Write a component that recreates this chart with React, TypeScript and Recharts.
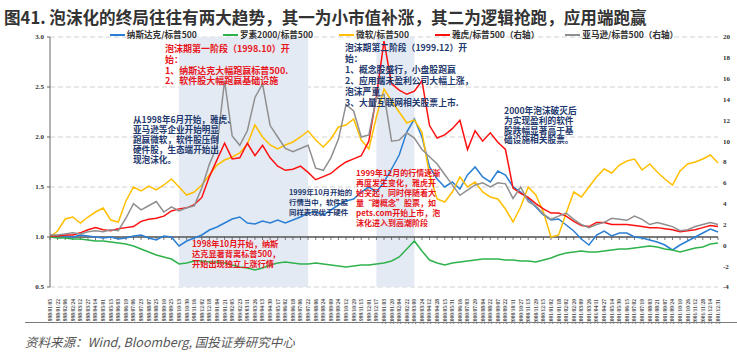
import React from "react";
import {
  LineChart,
  Line,
  XAxis,
  YAxis,
  CartesianGrid,
  ReferenceArea,
  ReferenceLine,
} from "recharts";

// ~every 11 trading days, Jan 1998 - Dec 2001
const dates = [
  "1998/01/05", "1998/01/22", "1998/02/06", "1998/02/24", "1998/03/12", "1998/03/27", "1998/04/14", "1998/05/01", "1998/05/15", "1998/06/03",
  "1998/06/19", "1998/07/06", "1998/07/23", "1998/08/07", "1998/08/25", "1998/09/10", "1998/09/25", "1998/10/13", "1998/10/30", "1998/11/16",
  "1998/12/02", "1998/12/18", "1999/01/04", "1999/01/21", "1999/02/05", "1999/02/23", "1999/03/11", "1999/03/26", "1999/04/13", "1999/04/30",
  "1999/05/17", "1999/06/02", "1999/06/18", "1999/07/06", "1999/07/22", "1999/08/06", "1999/08/24", "1999/09/09", "1999/09/24", "1999/10/12",
  "1999/10/29", "1999/11/15", "1999/12/01", "1999/12/17", "2000/01/03", "2000/01/20", "2000/02/04", "2000/02/22", "2000/03/09", "2000/03/24",
  "2000/04/12", "2000/04/28", "2000/05/15", "2000/05/31", "2000/06/16", "2000/07/03", "2000/07/20", "2000/08/04", "2000/08/22", "2000/09/07",
  "2000/09/22", "2000/10/11", "2000/10/27", "2000/11/13", "2000/11/29", "2000/12/15", "2001/01/02", "2001/01/18", "2001/02/02", "2001/02/20",
  "2001/03/09", "2001/03/26", "2001/04/11", "2001/04/27", "2001/05/14", "2001/05/30", "2001/06/15", "2001/07/02", "2001/07/19", "2001/08/03",
  "2001/08/21", "2001/09/07", "2001/09/24", "2001/10/10", "2001/10/26", "2001/11/12", "2001/11/28", "2001/12/14", "2001/12/31",
];

// left axis
const nasdaq = [
  1.00, 1.01, 1.01, 1.00, 1.02, 1.01, 1.00, 0.99, 1.00, 0.98,
  0.99, 1.01, 1.02, 0.99, 0.97, 1.01, 1.00, 0.91, 0.96, 0.99,
  1.02, 1.07, 1.10, 1.14, 1.18, 1.20, 1.14, 1.13, 1.16, 1.14,
  1.17, 1.14, 1.17, 1.20, 1.24, 1.25, 1.22, 1.27, 1.32, 1.36,
  1.38, 1.45, 1.50, 1.45, 1.55, 1.68, 1.82, 2.05, 2.18, 2.00,
  1.70, 1.58, 1.50, 1.55, 1.48, 1.62, 1.70, 1.60, 1.55, 1.66,
  1.62, 1.50, 1.45, 1.38, 1.30, 1.22, 1.17, 1.18, 1.12, 1.06,
  0.98, 0.92, 1.02, 1.06, 1.01, 1.04, 1.04, 1.00, 0.99, 0.97,
  0.95, 0.92, 0.87, 0.92, 0.96, 1.00, 1.04, 1.08, 1.05,
];
const russell = [
  1.00, 0.99, 0.99, 0.98, 0.98, 0.97, 0.96, 0.96, 0.95, 0.94,
  0.93, 0.91, 0.88, 0.85, 0.82, 0.80, 0.78, 0.73, 0.74, 0.76,
  0.76, 0.75, 0.75, 0.74, 0.72, 0.70, 0.69, 0.67, 0.69, 0.72,
  0.74, 0.75, 0.74, 0.73, 0.73, 0.74, 0.73, 0.72, 0.71, 0.70,
  0.71, 0.72, 0.72, 0.73, 0.74, 0.76, 0.80, 0.88, 0.96, 0.86,
  0.77, 0.74, 0.72, 0.74, 0.75, 0.76, 0.77, 0.78, 0.78, 0.78,
  0.77, 0.77, 0.76, 0.76, 0.75, 0.77, 0.79, 0.82, 0.84, 0.85,
  0.86, 0.85, 0.85, 0.86, 0.87, 0.88, 0.88, 0.89, 0.90, 0.91,
  0.90, 0.88, 0.87, 0.85, 0.87, 0.89, 0.90, 0.93, 0.94,
];
const msft = [
  1.00, 1.06, 1.18, 1.20, 1.14, 1.20, 1.25, 1.29, 1.17, 1.15,
  1.36, 1.50, 1.46, 1.51, 1.47, 1.52, 1.58, 1.50, 1.42, 1.45,
  1.52, 1.62, 1.72, 1.77, 1.80, 1.84, 1.93, 2.12, 2.00, 1.92,
  1.88, 1.92, 1.95, 2.00, 2.06, 1.97, 1.90, 1.98, 2.10, 2.12,
  2.18, 1.97, 1.88, 2.20, 2.48, 2.36, 2.25, 2.14, 2.17, 2.05,
  1.62, 1.38, 1.35, 1.45, 1.60, 1.50, 1.55, 1.45, 1.40, 1.38,
  1.28, 1.15, 1.30, 1.50, 1.42, 1.25, 1.00, 1.02, 1.24, 1.45,
  1.40, 1.50, 1.60, 1.68, 1.64, 1.72, 1.76, 1.78, 1.67, 1.73,
  1.65, 1.58, 1.52, 1.66, 1.73, 1.75, 1.78, 1.82, 1.74,
];
// right axis
const yahoo = [
  0.9, 0.9, 1.0, 1.0, 1.2, 1.5, 1.7, 1.5, 1.4, 1.6,
  1.7, 1.8, 2.3, 2.5, 2.6, 2.8, 3.3, 3.5, 3.6, 3.9,
  4.6, 6.6, 8.2, 9.8, 8.3, 8.4, 9.8, 8.6, 9.6, 8.4,
  7.6, 7.2, 7.3, 7.6, 7.0, 6.3, 6.6, 6.9, 7.5, 8.0,
  8.3, 8.6, 10.0, 14.3, 19.6, 15.5, 14.9, 14.5, 14.8, 15.8,
  11.5, 10.3, 10.6, 11.2, 12.0, 9.2, 11.0, 10.0, 10.8, 9.9,
  9.2, 5.5, 5.0, 4.6, 4.0, 3.5, 3.1, 3.1, 2.8, 2.3,
  1.9, 1.8, 2.2, 2.2, 2.0, 2.0, 2.0, 1.9, 1.8, 1.7,
  1.7, 1.6, 1.5, 1.3, 1.4, 1.5, 1.7, 1.9, 1.8,
];
const amzn = [
  1.0, 1.0, 1.1, 1.2, 1.1, 1.3, 1.4, 1.3, 1.5, 1.4,
  2.6, 4.0, 3.4, 3.8, 4.2, 3.2, 3.7, 3.3, 3.6, 3.8,
  5.5, 7.8, 9.5, 15.8, 10.5, 9.6, 11.0, 14.2, 15.5, 11.5,
  10.4, 9.3, 9.0, 9.3, 9.6, 7.4, 7.2, 8.4, 10.2, 13.5,
  12.9, 10.4, 10.6, 14.2, 14.5, 10.0, 10.1, 10.8, 10.3, 9.2,
  8.5, 7.8, 6.8, 5.8, 4.8, 5.3, 5.8, 6.0, 5.6, 6.0,
  5.9, 4.5, 5.6, 4.2, 3.8, 3.0, 2.5, 2.8, 3.1, 2.5,
  2.0, 1.7, 2.0, 2.2, 2.6, 2.5, 2.4, 2.8, 2.5, 2.0,
  2.2, 2.0, 1.8, 1.4, 1.5, 1.8, 2.0, 2.2, 2.0,
];

const leftTicks = [0.5, 1.0, 1.5, 2.0, 2.5, 3.0];
const rightTicks = [-4, -2, 0, 2, 4, 6, 8, 10, 12, 14, 16, 18, 20];

const phase1 = ["1998/10/13", "1999/07/22"];
const phase2 = ["1999/12/17", "2000/03/09"];

const series = [
  { key: "nasdaq", name: "纳斯达克/标普500", color: "#2a7fd4", axis: "left" },
  { key: "russell", name: "罗素2000/标普500", color: "#2fb24c", axis: "left" },
  { key: "msft", name: "微软/标普500", color: "#ffbf00", axis: "left" },
  { key: "yahoo", name: "雅虎/标普500（右轴）", color: "#ff1010", axis: "right" },
  { key: "amzn", name: "亚马逊/标普500（右轴）", color: "#8f8f8f", axis: "right" },
];

const data = dates.map((date, i) => ({
  date,
  nasdaq: nasdaq[i],
  russell: russell[i],
  msft: msft[i],
  yahoo: yahoo[i],
  amzn: amzn[i],
}));

const RED = "#e8161c";
const NAVY = "#1f3a6e";

const notes = [
  { left: 165, top: 44, size: 9, lh: 10.8, color: RED, lines: ["泡沫期第一阶段（1998.10）开", "始：", "1、纳斯达克大幅跑赢标普500.", "2、软件股大幅跑赢基础设施"] },
  { left: 345, top: 41.5, size: 8.8, lh: 11.1, color: NAVY, lines: ["泡沫期第二阶段（1999.12）开", "始：", "1、概念股盛行，小盘股跑赢", "2、应用端未盈利公司大幅上涨，", "泡沫严重", "3、大量互联网相关股票上市."] },
  { left: 133, top: 114, size: 8.6, lh: 10, color: NAVY, lines: ["从1998年6月开始，雅虎、", "亚马逊等企业开始明显", "跑赢微软，软件股压倒", "硬件股，生态端开始出", "现泡沫化。"] },
  { left: 289, top: 187, size: 7.4, lh: 10, color: NAVY, lines: ["1999年10月开始的", "行情当中，软件股", "同样表现优于硬件"] },
  { left: 192, top: 238, size: 8.2, lh: 10, color: RED, lines: ["1998年10月开始，纳斯", "达克显著背离标普500，", "开始出现独立上涨行情"] },
  { left: 356, top: 168, size: 8, lh: 10, color: RED, lines: ["1999年12月的行情逐渐", "再度发生变化，雅虎开", "始突起，同时伴随着大", "量“蹭概念”股票，如", "pets.com开始上市，泡", "沫化进入到高潮阶段"] },
  { left: 504, top: 106, size: 8.7, lh: 9.8, color: NAVY, lines: ["2000年泡沫破灭后", "为实现盈利的软件", "股跌幅显著高于基", "础设施相关股票。"] },
];

const DateTick = (props: any) => {
  const { x, y, payload } = props;
  return (
    <g transform={`translate(${x},${y})`}>
      <text
        transform="rotate(-90)"
        x={-4}
        dy="0.35em"
        textAnchor="end"
        fontSize={5.5}
        fontFamily="Liberation Serif"
        fontWeight={700}
        fill="#444"
      >
        {payload.value}
      </text>
    </g>
  );
};

// the category axis line sits at y = 1.0 with small ticks
const AxisAtOne = (props: any) => {
  const { x1, y1, x2 } = props;
  const step = (x2 - x1) / (dates.length - 1);
  return (
    <g>
      <line x1={x1} y1={y1} x2={x2} y2={y1} stroke="#555" strokeWidth={1.3} />
      {dates.map((d, i) => (
        <line key={d} x1={x1 + i * step} x2={x1 + i * step} y1={y1} y2={y1 + 3} stroke="#555" strokeWidth={0.8} />
      ))}
    </g>
  );
};

const axisFont = { fontSize: 7, fontFamily: "Liberation Serif", fontWeight: 700, fill: "#333" };

export default function App() {
  return (
    <div
      style={{
        position: "absolute",
        left: 0,
        top: 0,
        width: 737,
        height: 355,
        background: "#fff",
        fontFamily: "'Noto Sans CJK SC', sans-serif",
      }}
    >
      <div
        style={{
          position: "absolute",
          left: 4,
          top: 7,
          fontSize: 16.6,
          lineHeight: "21px",
          fontWeight: 700,
          color: "#333",
          whiteSpace: "nowrap",
        }}
      >
        图41. 泡沫化的终局往往有两大趋势，其一为小市值补涨，其二为逻辑抢跑，应用端跑赢
      </div>

      <LineChart width={737} height={355} data={data} margin={{ top: 37, right: 0, bottom: 0, left: 0 }}>
        <ReferenceArea yAxisId="left" x1={phase1[0]} x2={phase1[1]} fill="#e4eaf4" fillOpacity={1} stroke="none" />
        <ReferenceArea yAxisId="left" x1={phase2[0]} x2={phase2[1]} fill="#e4eaf4" fillOpacity={1} stroke="none" />
        <CartesianGrid yAxisId="left" vertical={false} stroke="#d2d2d2" strokeDasharray="5 3" />
        <XAxis
          dataKey="date"
          interval={0}
          height={68}
          axisLine={false}
          tickLine={false}
          tick={<DateTick />}
        />
        <YAxis
          yAxisId="left"
          domain={[0.5, 3]}
          ticks={leftTicks}
          width={50}
          tickFormatter={(v: number) => v.toFixed(1)}
          tick={axisFont}
          axisLine={{ stroke: "#666" }}
          tickLine={{ stroke: "#666" }}
          tickSize={3}
          tickMargin={3}
        />
        <YAxis
          yAxisId="right"
          orientation="right"
          domain={[-4, 20]}
          ticks={rightTicks}
          width={19}
          tick={{ ...axisFont, textAnchor: "start" }}
          axisLine={false}
          tickLine={false}
          tickSize={0}
          tickMargin={5}
        />
        <ReferenceLine yAxisId="left" y={1} shape={<AxisAtOne />} />
        {series.map((s) => (
          <Line
            key={s.key}
            yAxisId={s.axis}
            type="linear"
            dataKey={s.key}
            name={s.name}
            stroke={s.color}
            strokeWidth={1.5}
            dot={false}
            isAnimationActive={false}
          />
        ))}
      </LineChart>

      {/* legend */}
      <div
        style={{
          position: "absolute",
          left: 60,
          width: 668,
          top: 29,
          display: "flex",
          justifyContent: "center",
          gap: 26,
          fontSize: 8.6,
          fontWeight: 700,
          color: "#333",
          lineHeight: "11px",
          whiteSpace: "nowrap",
        }}
      >
        {series.map((s) => (
          <div key={s.key} style={{ display: "flex", alignItems: "center" }}>
            <span style={{ display: "inline-block", width: 15, height: 2, background: s.color, marginRight: 2 }} />
            {s.name}
          </div>
        ))}
      </div>

      {notes.map((n, i) => (
        <div
          key={i}
          style={{
            position: "absolute",
            left: n.left,
            top: n.top,
            fontSize: n.size,
            lineHeight: `${n.lh}px`,
            color: n.color,
            fontWeight: 700,
            whiteSpace: "pre",
          }}
        >
          {n.lines.join("\n")}
        </div>
      ))}

      <div style={{ position: "absolute", left: 25, right: 0, top: 322, height: 0, borderTop: "1.6px solid #7a7a7a" }} />
      <div
        style={{
          position: "absolute",
          left: 25,
          top: 333,
          fontSize: 12.5,
          lineHeight: "18px",
          fontStyle: "italic",
          color: "#555",
          whiteSpace: "nowrap",
        }}
      >
        资料来源：Wind, Bloomberg, 国投证券研究中心
      </div>
    </div>
  );
}
